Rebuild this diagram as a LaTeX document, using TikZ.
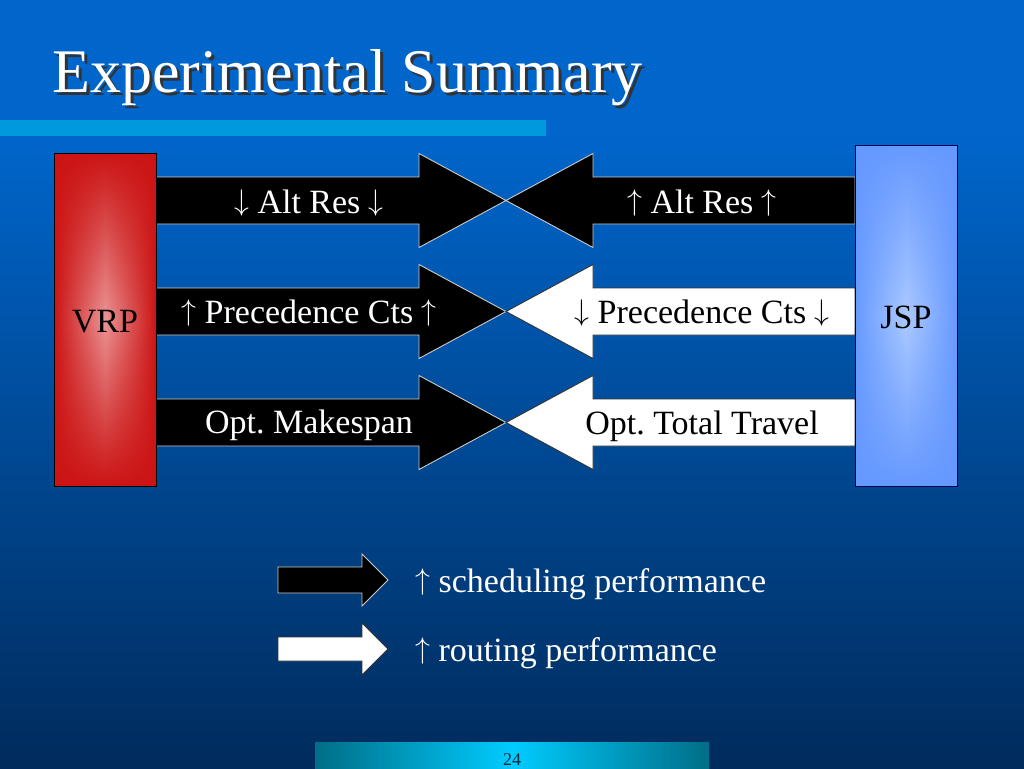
\documentclass[tikz,border=0pt]{standalone}
\usepackage{fontspec}
\usepackage{graphicx}
\setmainfont{Liberation Serif}
\frenchspacing
\usetikzlibrary{fadings}
\definecolor{bgtop}{RGB}{0,102,204}
\definecolor{bgbot}{RGB}{0,43,92}
\definecolor{barblue}{RGB}{0,153,221}
\definecolor{vrpred}{RGB}{204,20,20}
\definecolor{vrppink}{RGB}{234,150,150}
\definecolor{jspblue}{RGB}{102,153,255}
\definecolor{jsplight}{RGB}{172,202,255}
\definecolor{footteal}{RGB}{0,110,135}
\definecolor{footcyan}{RGB}{0,204,255}
\definecolor{foottext}{RGB}{0,40,60}
\newcommand{\myup}{\resizebox{!}{23pt}{\raisebox{1.94pt}{$\uparrow$}}}
\newcommand{\mydown}{\resizebox{!}{23pt}{\raisebox{1.94pt}{$\downarrow$}}}
\tikzfading[name=vfade, top color=transparent!0, bottom color=transparent!0, middle color=transparent!100]
\tikzset{
  lbl/.style={font=\fontsize{34}{40}\selectfont, inner sep=0pt, anchor=base},
  blackarrow/.style={fill=black, draw=black!20, line width=0.9pt, line join=miter},
  whitearrow/.style={fill=white, draw=black!80, line width=0.9pt, line join=miter},
}
\begin{document}
\begin{tikzpicture}[x=1pt,y=-1pt]
\useasboundingbox (0,0) rectangle (1024,768);
% background
\fill[bgtop] (0,0) rectangle (1024,131);
\shade[top color=bgtop, bottom color=bgbot] (0,130) rectangle (1024,768);
\fill[barblue] (0,120) rectangle (546,136);
% title
\node[font=\fontsize{62}{70}\selectfont, text=black!80, anchor=base west, inner sep=0pt] (titleshadow) at (55,95) {Experimental Summary};
\node[font=\fontsize{62}{70}\selectfont, text=white, anchor=base west, inner sep=0pt] (title) at (52,92) {Experimental Summary};
% right-pointing arrows (from VRP)
\foreach \c/\s in {200.5/blackarrow, 311.5/blackarrow, 422.5/blackarrow}{
  \path[\s] (156,\c-23.5) -- (419,\c-23.5) -- (419,\c-47) -- (506,\c) -- (419,\c+47) -- (419,\c+23.5) -- (156,\c+23.5) -- cycle;
}
% left-pointing arrows (from JSP)
\foreach \c/\s in {200.5/blackarrow, 311.5/whitearrow, 422.5/whitearrow}{
  \path[\s] (855,\c-23.5) -- (593,\c-23.5) -- (593,\c-47) -- (506,\c) -- (593,\c+47) -- (593,\c+23.5) -- (855,\c+23.5) -- cycle;
}
% VRP box
\shade[left color=vrpred, right color=vrpred, middle color=vrppink] (54,153) rectangle (156,486);
\fill[vrpred, path fading=vfade] (54,153) rectangle (156,486);
\draw[black, line width=1pt] (54,153) rectangle (156,486);
\node[lbl, text=black] (vrp) at (105,332) {VRP};
% JSP box
\shade[left color=jspblue, right color=jspblue, middle color=jsplight] (855,145) rectangle (957,486);
\fill[jspblue, path fading=vfade] (855,145) rectangle (957,486);
\draw[black!70!blue, line width=1pt] (855,145) rectangle (957,486);
\node[lbl, text=black] (jsp) at (906,328) {JSP};
% arrow labels
\node[lbl, text=white] (l1) at (309,213) {\mydown{} Alt Res \mydown};
\node[lbl, text=white] (l2) at (309,323) {\myup{} Precedence Cts \myup};
\node[lbl, text=white] (l3) at (309,433) {Opt. Makespan};
\node[lbl, text=white] (r1) at (702,213) {\myup{} Alt Res \myup};
\node[lbl, text=black] (r2) at (702,323) {\mydown{} Precedence Cts \mydown};
\node[lbl, text=black] (r3) at (702,434) {Opt. Total Travel};
% legend
\path[blackarrow] (278,567) -- (362,567) -- (362,554) -- (388,580) -- (362,606) -- (362,593) -- (278,593) -- cycle;
\path[whitearrow] (278,637) -- (362,637) -- (362,623) -- (388,649) -- (362,675) -- (362,661) -- (278,661) -- cycle;
\node[lbl, text=white, anchor=base west] (leg1) at (415,592) {\myup{} scheduling performance};
\node[lbl, text=white, anchor=base west] (leg2) at (415,661) {\myup{} routing performance};
% footer
\shade[left color=footteal, right color=footteal, middle color=footcyan] (315,742) rectangle (709,768);
\node[font=\fontsize{18}{21}\selectfont, text=foottext, inner sep=0pt, anchor=base] (page) at (512,765) {24};
\end{tikzpicture}
\end{document}
